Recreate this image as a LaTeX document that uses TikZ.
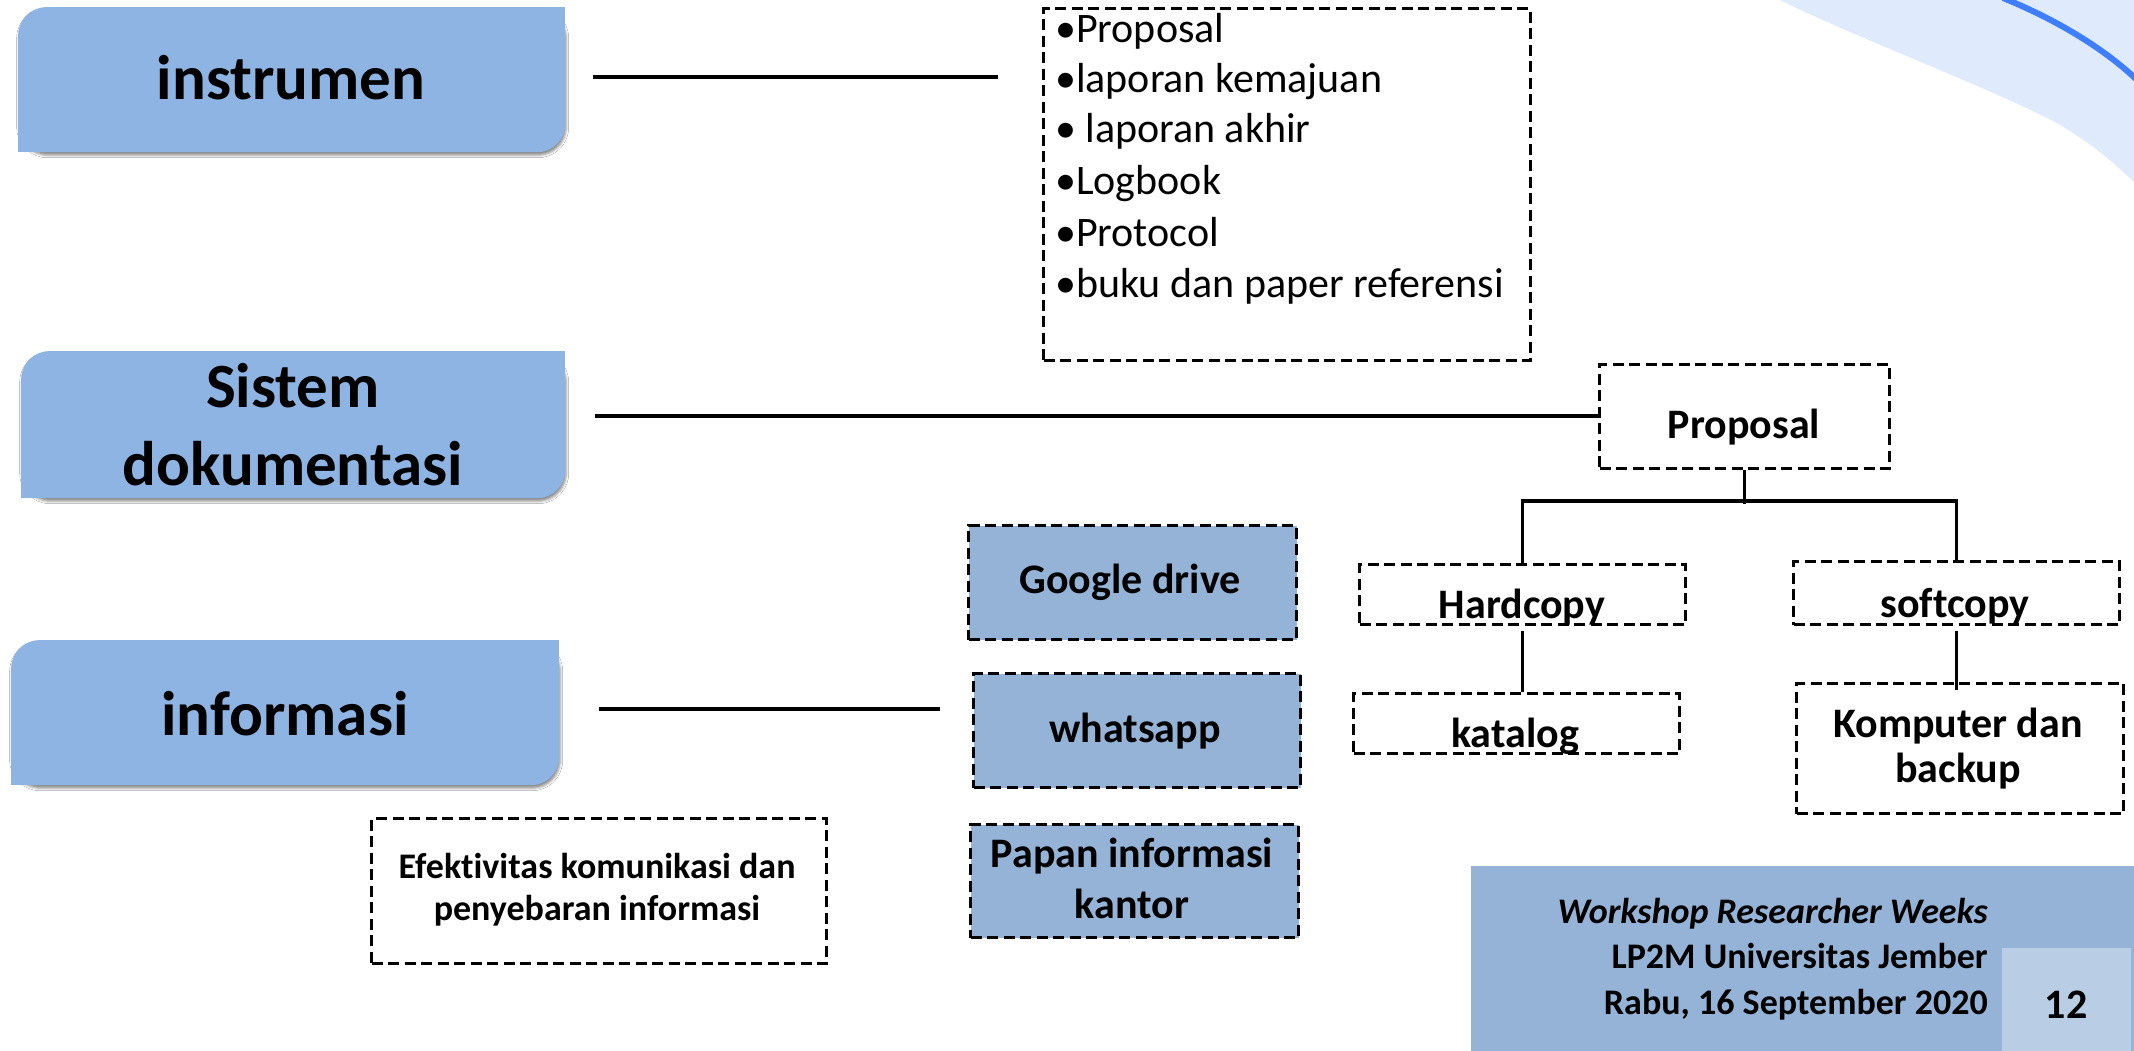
\documentclass[tikz,border=0pt]{standalone}
\usepackage{fontspec}
\setmainfont{Carlito}[Ligatures=NoCommon]
\usetikzlibrary{shadows.blur}
\definecolor{catblue}{HTML}{8EB4E3}
\definecolor{midblue}{HTML}{95B3D7}
\definecolor{pageblue}{HTML}{B9CDE5}
\definecolor{decofill}{HTML}{DFEAFD}
\definecolor{decoline}{HTML}{3F7EFE}
\tikzset{
  catbox/.style={fill=catblue, rounded corners=28pt, inner sep=0pt, anchor=north west,
     blur shadow={shadow xshift=1pt, shadow yshift=-3pt, shadow blur radius=2.5pt, shadow opacity=45}},
  cattext/.style={font=\fontsize{63}{76}\selectfont\bfseries, anchor=base, inner sep=0pt},
  dbox/.style={draw=black, line width=3.2pt, dash pattern=on 11pt off 5.5pt, inner sep=0pt, anchor=north west},
  bluebox/.style={dbox, fill=midblue},
  boxtext/.style={font=\fontsize{42}{50}\selectfont\bfseries, anchor=base, inner sep=0pt},
  itemtext/.style={font=\fontsize{42}{50}\selectfont, anchor=base west, inner sep=0pt},
  smalltext/.style={font=\fontsize{36}{42}\selectfont\bfseries, anchor=base, inner sep=0pt},
  foottext/.style={font=\fontsize{36}{42}\selectfont\bfseries, anchor=base east, inner sep=0pt},
  conn/.style={line width=4.5pt},
  treeline/.style={line width=3.5pt},
}
\begin{document}
\begin{tikzpicture}[x=1pt, y=-1pt]
\fill[white] (0,0) rectangle (2134,1051);
\path[use as bounding box] (0,0) rectangle (2134,1051);
% decoration top right
\fill[decofill] (1780,0) .. controls (1850,35) and (1990,88) .. (2055,122) .. controls (2095,145) and (2118,167) .. (2134,182) -- (2134,0) -- cycle;
\draw[decoline, line width=6pt] (2003,-2) .. controls (2050,17) and (2100,45) .. (2136,79);

% category boxes
\node[catbox, minimum width=547pt, minimum height=145pt] (instr) at (18,7) {};
\fill[catblue] (instr.north east) rectangle ++(-30,30);
\fill[catblue] (instr.south west) rectangle ++(30,-30);
\node[cattext] (instrT) at (291,100) {instrumen};

\node[catbox, minimum width=544pt, minimum height=147pt] (sis) at (21,351) {};
\fill[catblue] (sis.north east) rectangle ++(-30,30);
\fill[catblue] (sis.south west) rectangle ++(30,-30);
\node[cattext] (sisT1) at (293,407) {Sistem};
\node[cattext] (sisT2) at (293,485) {dokumentasi};

\node[catbox, minimum width=548pt, minimum height=145pt] (info) at (11,640) {};
\fill[catblue] (info.north east) rectangle ++(-30,30);
\fill[catblue] (info.south west) rectangle ++(30,-30);
\node[cattext] (infoT) at (285,735) {informasi};

% list of instruments
\node[dbox, minimum width=487pt, minimum height=352pt] (list) at (1042,7) {};
\node[itemtext] (it1) at (1055,43) {•Proposal};
\node[itemtext] (it2) at (1055,93) {•laporan kemajuan};
\node[itemtext] (it3) at (1055,143) {• laporan akhir};
\node[itemtext] (it4) at (1055,195) {•Logbook};
\node[itemtext] (it5) at (1055,247) {•Protocol};
\node[itemtext] (it6) at (1055,297) {•buku dan paper referensi};

% documentation tree
\node[dbox, minimum width=290pt, minimum height=104pt] (prop) at (1598,363) {};
\node[boxtext] (propT) at (1744,438) {Proposal};
\node[dbox, minimum width=326pt, minimum height=60pt] (hard) at (1358,563) {};
\node[dbox, minimum width=326pt, minimum height=63pt] (soft) at (1792,560) {};
\node[dbox, minimum width=326pt, minimum height=60pt] (kat) at (1352,692) {};
\node[dbox, minimum width=327pt, minimum height=130pt] (komp) at (1795,682) {};
\node[boxtext] (hardT) at (1522,618) {Hardcopy};
\node[boxtext] (softT) at (1955,617) {softcopy};
\node[boxtext] (katT) at (1515,747) {katalog};
\node[boxtext] (kompT1) at (1958,737) {Komputer dan};
\node[boxtext] (kompT2) at (1958,782) {backup};

\draw[treeline] (prop.south) -- ++(0,34);
\draw[treeline] (hard.north) -- ++(0,-62) -| (soft.north);
\draw[treeline] ([yshift=-5pt]hard.south) -- (hard.south |- kat.north);
\draw[treeline] ([yshift=-5pt]soft.south) -- ([yshift=-8pt]soft.south |- komp.north);

% information media
\node[bluebox, minimum width=328pt, minimum height=114pt] (gd) at (967,524) {};
\node[bluebox, minimum width=327pt, minimum height=114pt] (wa) at (972,672) {};
\node[bluebox, minimum width=328pt, minimum height=113pt] (pap) at (969,823) {};
\node[boxtext] (gdT) at (1130,593) {Google drive};
\node[boxtext] (waT) at (1135,742) {whatsapp};
\node[boxtext] (papT1) at (1132,867) {Papan informasi};
\node[boxtext] (papT2) at (1132,918) {kantor};

\node[dbox, minimum width=455pt, minimum height=145pt] (efk) at (370,817) {};
\node[smalltext] (efkT1) at (597,878) {Efektivitas komunikasi dan};
\node[smalltext] (efkT2) at (597,920) {penyebaran informasi};

% connectors
\coordinate (l1s) at (593,77);
\coordinate (l1e) at (998,77);
\coordinate (l2s) at (595,416);
\coordinate (l3s) at (599,709);
\coordinate (l3e) at (940,709);
\draw[conn] (l1s) -- (l1e);
\draw[conn] (l2s) -- (l2s -| prop.west);
\draw[conn] (l3s) -- (l3e);

% footer
\node[fill=midblue, inner sep=0pt, anchor=north west, minimum width=663pt, minimum height=185pt] (foot) at (1471,866) {};
\node[fill=pageblue, inner sep=0pt, anchor=north west, minimum width=129pt, minimum height=103pt] (pg) at (2002,948) {};
\node[foottext, font=\fontsize{36}{42}\selectfont\bfseries\itshape] (f1) at (1988,923) {Workshop Researcher Weeks};
\node[foottext] (f2) at (1988,968) {LP2M Universitas Jember};
\node[foottext] (f3) at (1988,1014) {Rabu, 16 September 2020};
\node[font=\fontsize{42}{50}\selectfont\bfseries, anchor=base, inner sep=0pt] (pgT) at (2066,1018) {12};
\end{tikzpicture}
\end{document}
